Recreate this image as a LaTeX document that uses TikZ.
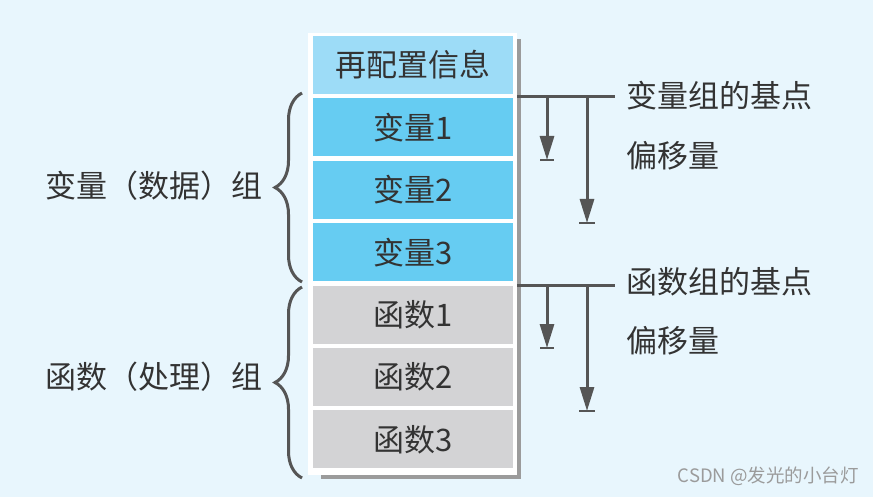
\documentclass[tikz,border=0pt]{standalone}
\usepackage{fontspec}
\newfontfamily\cjk{Noto Sans CJK SC}
\usetikzlibrary{positioning,arrows.meta,decorations.pathreplacing,backgrounds}

\definecolor{bgblue}{HTML}{E8F6FD}
\definecolor{relocblue}{HTML}{9DDCF7}
\definecolor{varblue}{HTML}{66CCF2}
\definecolor{funcgray}{HTML}{D3D3D5}
\definecolor{shadowgray}{HTML}{9B9B9B}
\definecolor{linegray}{HTML}{555555}
\definecolor{txtgray}{HTML}{333333}

\begin{document}
\begin{tikzpicture}[x=1pt, y=-1pt, node distance=4pt,
    cell/.style={minimum width=200pt, minimum height=58pt, inner sep=0pt,
      text=txtgray, font=\cjk\fontsize{31}{36}\selectfont},
    relocbox/.style={cell, fill=relocblue},
    varbox/.style={cell, fill=varblue},
    funcbox/.style={cell, fill=funcgray},
    lbl/.style={inner sep=0pt, text=txtgray, font=\cjk\fontsize{31}{36}\selectfont},
    baseln/.style={line width=3pt, draw=linegray},
    offarrow/.style={line width=3pt, draw=linegray, -{Triangle[length=24pt, width=14pt]}},
    endbar/.style={line width=2pt, draw=linegray},
    grpbrace/.style={decorate, decoration={brace, amplitude=27pt}, line width=3pt, draw=linegray}]
    \useasboundingbox (0,0) rectangle (873,497);

    % Nodes
    \node[relocbox] (reloc) at (413,65) {再配置信息};
    \node[varbox, below=of reloc] (var1) {变量1};
    \node[varbox, below=of var1] (var2) {变量2};
    \node[varbox, below=of var2] (var3) {变量3};
    \node[funcbox, below=of var3] (fn1) {函数1};
    \node[funcbox, below=of fn1] (fn2) {函数2};
    \node[funcbox, below=of fn2] (fn3) {函数3};

    % Background, frame and shadow
    \begin{scope}[on background layer]
      \fill[bgblue] (0,0) rectangle (873,497);
      \fill[shadowgray] ([shift={(8pt,-3pt)}]reloc.north west) rectangle ([shift={(8pt,-10pt)}]fn3.south east);
      \fill[white] ([shift={(-5pt,3pt)}]reloc.north west) rectangle ([shift={(4pt,-6pt)}]fn3.south east);
    \end{scope}

    % Base points and offsets
    \coordinate (vb) at (517,97);
    \coordinate (ve) at (615,97);
    \coordinate (va1) at (547,97);
    \coordinate (va1end) at (547,160);
    \coordinate (va2) at (587,97);
    \coordinate (va2end) at (587,223);
    \draw[baseln] (vb) -- (ve);
    \draw[offarrow] (va1) -- (va1end);
    \draw[offarrow] (va2) -- (va2end);
    \draw[endbar] ([xshift=-7pt]va1end) -- ([xshift=7pt]va1end);
    \draw[endbar] ([xshift=-8pt]va2end) -- ([xshift=8pt]va2end);

    \coordinate (fb) at (517,285);
    \coordinate (fe) at (615,285);
    \coordinate (fa1) at (547,285);
    \coordinate (fa1end) at (547,348);
    \coordinate (fa2) at (587,285);
    \coordinate (fa2end) at (587,411);
    \draw[baseln] (fb) -- (fe);
    \draw[offarrow] (fa1) -- (fa1end);
    \draw[offarrow] (fa2) -- (fa2end);
    \draw[endbar] ([xshift=-7pt]fa1end) -- ([xshift=7pt]fa1end);
    \draw[endbar] ([xshift=-8pt]fa2end) -- ([xshift=8pt]fa2end);

    \node[lbl, anchor=west] (vbase) at (626,96) {变量组的基点};
    \node[lbl, anchor=west] (voff) at (626,156) {偏移量};
    \node[lbl, anchor=west] (fbase) at (626,282) {函数组的基点};
    \node[lbl, anchor=west] (foff) at (626,341) {偏移量};

    % Groups
    \coordinate (vtop) at (302,93);
    \coordinate (vbot) at (302,282);
    \coordinate (ftop) at (302,287);
    \coordinate (fbot) at (302,478);
    \draw[grpbrace] (vbot) -- (vtop);
    \draw[grpbrace] (fbot) -- (ftop);
    \node[lbl, anchor=east] (vgrp) at (263,186) {变量（数据）组};
    \node[lbl, anchor=east] (fgrp) at (263,377) {函数（处理）组};

    \node[inner sep=0pt, anchor=east, text=shadowgray, font=\cjk\fontsize{18.5}{20}\selectfont] (wm) at (859,476) {CSDN @发光的小台灯};
  \end{tikzpicture}
\end{document}
